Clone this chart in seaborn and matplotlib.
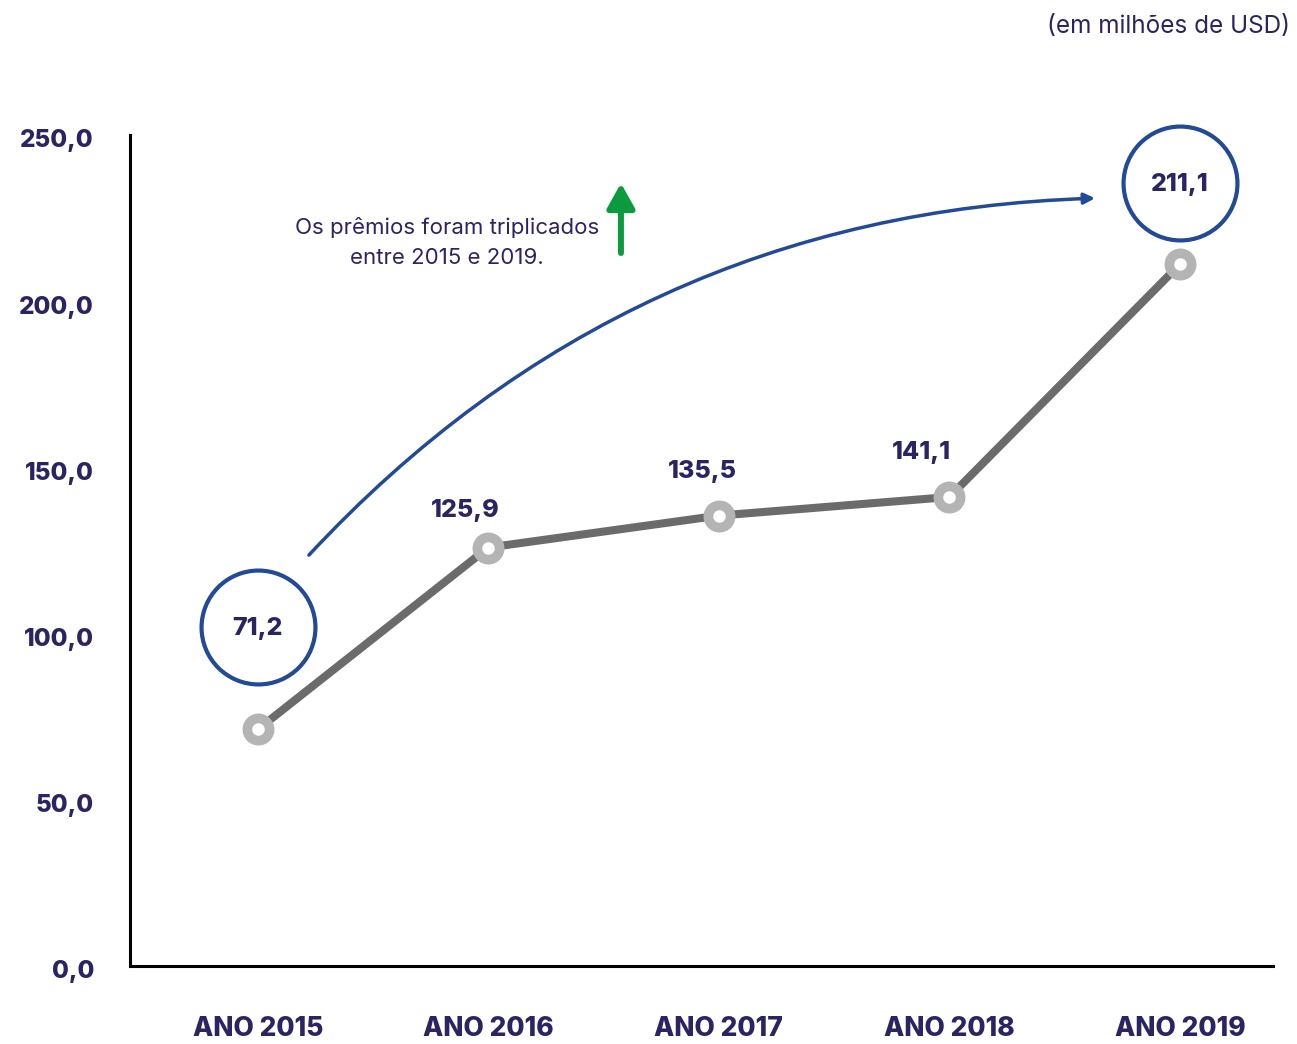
import matplotlib
matplotlib.use("Agg")
import matplotlib.pyplot as plt
import matplotlib.transforms as mtrans
import seaborn as sns
import pandas as pd
from matplotlib.patches import FancyArrowPatch

# ---- data ----
categories = ["ANO 2015", "ANO 2016", "ANO 2017", "ANO 2018", "ANO 2019"]
values = [71.2, 125.9, 135.5, 141.1, 211.1]
value_labels = ["71,2", "125,9", "135,5", "141,1", "211,1"]
yticks = [0, 50, 100, 150, 200, 250]
ytick_labels = ["0,0", "50,0", "100,0", "150,0", "200,0", "250,0"]
unit_text = "(em milhões de USD)"
note_text = "Os prêmios foram triplicados\nentre 2015 e 2019."

NAVY = "#2b2463"
BLUE = "#234a96"
LINE = "#6b6b6b"
MARK = "#b4b4b4"
GREEN = "#0b9a3e"
HEAVY = 800

sns.set_theme(style="white")
plt.rcParams["font.family"] = ["Inter", "DejaVu Sans"]

df = pd.DataFrame({"x": range(len(categories)), "y": values})

fig = plt.figure(figsize=(12.97, 10.44), dpi=100)
ax = fig.add_axes([130 / 1297, 78 / 1044, (1273 - 130) / 1297, (966 - 135) / 1044])

sns.lineplot(data=df, x="x", y="y", ax=ax, color=LINE, linewidth=5.8,
             marker="o", markersize=16, markerfacecolor="white",
             markeredgecolor=MARK, markeredgewidth=7, zorder=3)

ax.set_xlim(-0.555, 4.404)
ax.set_ylim(0, 250)
ax.set_xticks(range(len(categories)))
ax.set_xticklabels(categories, fontsize=19, fontweight=HEAVY, color=NAVY)
ax.set_yticks(yticks)
ax.set_yticklabels(ytick_labels, fontsize=17.5, fontweight=HEAVY, color=NAVY)
ax.tick_params(axis="x", length=0, pad=36)
ax.tick_params(axis="y", length=0, pad=26)
shift = mtrans.ScaledTranslation(0, -2.5 / 72, fig.dpi_scale_trans)
for lab in ax.get_yticklabels():
    lab.set_transform(lab.get_transform() + shift)
ax.set_xlabel("")
ax.set_ylabel("")
for s in ["top", "right"]:
    ax.spines[s].set_visible(False)
for s in ["left", "bottom"]:
    ax.spines[s].set_color("black")
    ax.spines[s].set_linewidth(2.2)

# point labels for middle years
offsets = [None, (-17, 27), (-12, 32), (-20, 32), None]
for i, off in enumerate(offsets):
    if off is None:
        continue
    ax.annotate(value_labels[i], (i, values[i]), xytext=off, textcoords="offset points",
                ha="center", va="center", fontsize=18, fontweight=HEAVY, color=NAVY)

# circled labels for first and last
circle_y = {0: 102.0, 4: 235.6}
for i, cy in circle_y.items():
    ax.scatter([i], [cy], s=6724, facecolors="white", edgecolors=BLUE, linewidths=3.0,
               zorder=4, clip_on=False)
    ax.text(i, cy - 0.6, value_labels[i], ha="center", va="center", fontsize=18,
            fontweight=HEAVY, color=NAVY, zorder=5)

# curved arrow
arr = FancyArrowPatch((0.213, 123.0), (3.644, 231.0), connectionstyle="arc3,rad=-0.21",
                      arrowstyle="-|>", mutation_scale=16, color=BLUE, linewidth=2.5,
                      zorder=2)
ax.add_patch(arr)

# note text
ax.text(0.82, 217.6, note_text, ha="center", va="center", fontsize=16,
        color=NAVY, linespacing=1.6)

# green arrow
ax.annotate("", xy=(1.575, 235.5), xytext=(1.575, 214.5),
            arrowprops=dict(arrowstyle="-|>,head_width=0.42,head_length=0.75",
                            color=GREEN, linewidth=4.3, shrinkA=0, shrinkB=0,
                            mutation_scale=20))

fig.text(1290 / 1297, 1 - 26 / 1044, unit_text, ha="right", va="center",
         fontsize=17.5, color=NAVY)

fig.savefig("out.png", dpi=100, facecolor="white")
